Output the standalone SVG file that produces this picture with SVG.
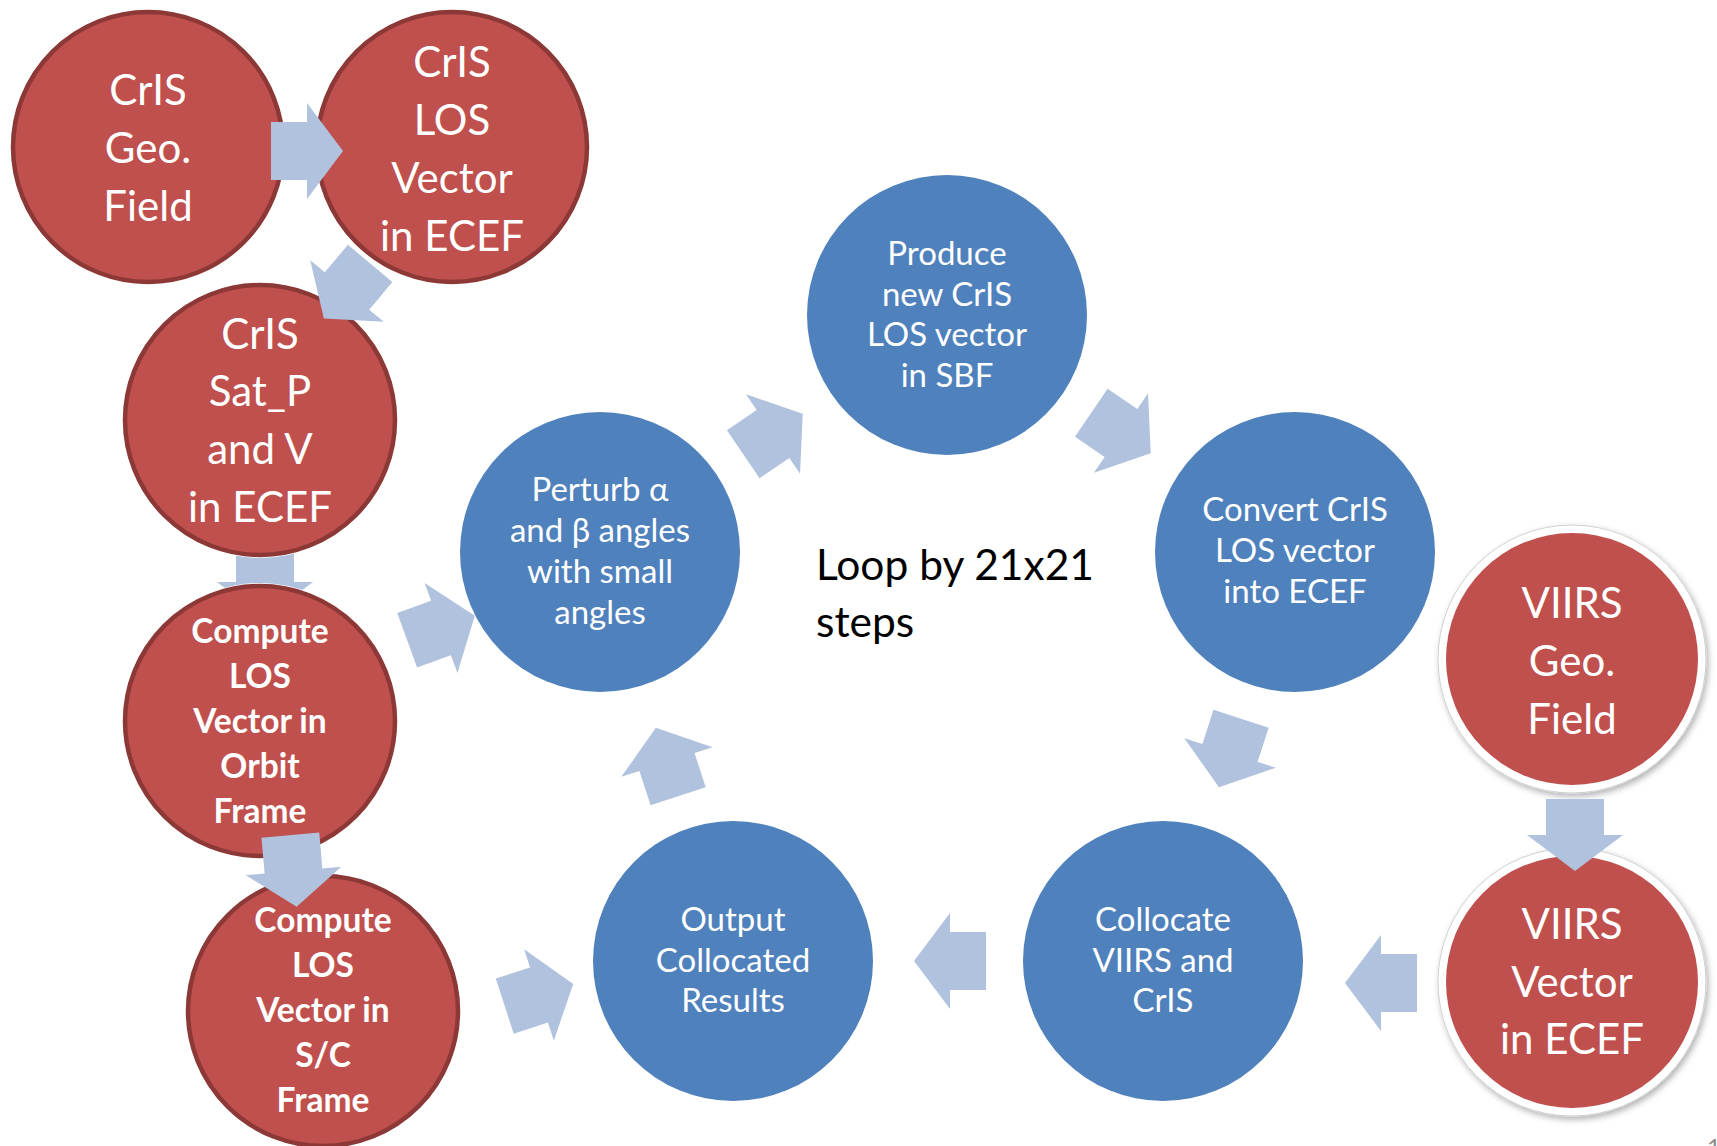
<svg xmlns="http://www.w3.org/2000/svg" width="1717" height="1146" viewBox="0 0 1717 1146">
  <style>
    .red { fill: #C0504D; stroke: #8C3836; stroke-width: 4.5; }
    .blue { fill: #4F81BD; }
    .ring { fill: #FFFFFF; stroke: #D0D0D0; stroke-width: 1; }
    .viirs { fill: #C0504D; }
    .arw { fill: #B0C2DD; }
    text { font-family: Lato, "Liberation Sans", sans-serif; fill: #FFFFFF; text-anchor: middle; }
    .big { font-size: 42px; }
    .bold { font-size: 33.5px; font-weight: bold; }
    .small { font-size: 33px; }
    .note { font-size: 42.5px; fill: #000000; text-anchor: start; }
    .page { font-size: 24px; fill: #8C8C8C; text-anchor: start; }
  </style>
  <defs>
    <!-- block arrow pointing right, centred on the origin -->
    <path id="arrow" d="M-36,-29 H0 V-48 L36,0 L0,48 V29 H-36 Z"/>
    <filter id="soft" x="-10%" y="-10%" width="125%" height="125%">
      <feDropShadow dx="2" dy="3" stdDeviation="3" flood-color="#000" flood-opacity="0.3"/>
    </filter>
    <!-- hide arrow parts that pass behind circles -->
    <mask id="behindSat" maskUnits="userSpaceOnUse" x="0" y="0" width="1717" height="1146">
      <rect width="1717" height="1146" fill="#fff"/>
      <circle cx="260" cy="420" r="138" fill="#000"/>
      <circle cx="260" cy="721" r="138" fill="#000"/>
    </mask>
    <mask id="behindViirs" maskUnits="userSpaceOnUse" x="0" y="0" width="1717" height="1146">
      <rect width="1717" height="1146" fill="#fff"/>
      <circle cx="1572" cy="659" r="135" fill="#000"/>
    </mask>
  </defs>

  <rect width="1717" height="1146" fill="#FFFFFF"/>

  <g id="crisGeo">
    <circle class="red" cx="148" cy="147" r="135"/>
    <text class="big" x="148" y="105">CrIS</text>
    <text class="big" x="148" y="163">Geo.</text>
    <text class="big" x="148" y="221">Field</text>
  </g>
  <g id="crisLosEcef">
    <circle class="red" cx="452" cy="147" r="135"/>
    <text class="big" x="452" y="77">CrIS</text>
    <text class="big" x="452" y="135">LOS</text>
    <text class="big" x="452" y="193">Vector</text>
    <text class="big" x="452" y="251">in ECEF</text>
  </g>
  <g id="crisSatPV">
    <circle class="red" cx="260" cy="420" r="135"/>
    <text class="big" x="260" y="349">CrIS</text>
    <text class="big" x="260" y="406">Sat_P</text>
    <text class="big" x="260" y="464">and V</text>
    <text class="big" x="260" y="522">in ECEF</text>
  </g>
  <g id="losOrbit">
    <circle class="red" cx="260" cy="721" r="135"/>
    <text class="bold" x="260" y="643">Compute</text>
    <text class="bold" x="260" y="688">LOS</text>
    <text class="bold" x="260" y="733">Vector in</text>
    <text class="bold" x="260" y="778">Orbit</text>
    <text class="bold" x="260" y="823">Frame</text>
  </g>
  <g id="losSC">
    <circle class="red" cx="323" cy="1011" r="135"/>
    <text class="bold" x="323" y="932">Compute</text>
    <text class="bold" x="323" y="977">LOS</text>
    <text class="bold" x="323" y="1022">Vector in</text>
    <text class="bold" x="323" y="1067">S/C</text>
    <text class="bold" x="323" y="1112">Frame</text>
  </g>

  <g id="perturb">
    <circle class="blue" cx="600" cy="552" r="140"/>
    <text class="small" x="600" y="501">Perturb α</text>
    <text class="small" x="600" y="542">and β angles</text>
    <text class="small" x="600" y="583">with small</text>
    <text class="small" x="600" y="624">angles</text>
  </g>
  <g id="produce">
    <circle class="blue" cx="947" cy="315" r="140"/>
    <text class="small" x="947" y="265">Produce</text>
    <text class="small" x="947" y="306">new CrIS</text>
    <text class="small" x="947" y="346">LOS vector</text>
    <text class="small" x="947" y="387">in SBF</text>
  </g>
  <g id="convert">
    <circle class="blue" cx="1295" cy="552" r="140"/>
    <text class="small" x="1295" y="521">Convert CrIS</text>
    <text class="small" x="1295" y="562">LOS vector</text>
    <text class="small" x="1295" y="603">into ECEF</text>
  </g>
  <g id="collocate">
    <circle class="blue" cx="1163" cy="961" r="140"/>
    <text class="small" x="1163" y="931">Collocate</text>
    <text class="small" x="1163" y="972">VIIRS and</text>
    <text class="small" x="1163" y="1012">CrIS</text>
  </g>
  <g id="output">
    <circle class="blue" cx="733" cy="961" r="140"/>
    <text class="small" x="733" y="931">Output</text>
    <text class="small" x="733" y="972">Collocated</text>
    <text class="small" x="733" y="1012">Results</text>
  </g>

  <g id="viirsGeo">
    <circle class="ring" cx="1572" cy="659" r="134" filter="url(#soft)"/>
    <circle class="viirs" cx="1572" cy="659" r="126"/>
    <text class="big" x="1572" y="618">VIIRS</text>
    <text class="big" x="1572" y="676">Geo.</text>
    <text class="big" x="1572" y="734">Field</text>
  </g>
  <g id="viirsVector">
    <circle class="ring" cx="1572" cy="982" r="134" filter="url(#soft)"/>
    <circle class="viirs" cx="1572" cy="982" r="126"/>
    <text class="big" x="1572" y="939">VIIRS</text>
    <text class="big" x="1572" y="997">Vector</text>
    <text class="big" x="1572" y="1054">in ECEF</text>
  </g>

  <g id="connectors" class="arw">
    <use href="#arrow" transform="translate(307,151)"/>
    <use href="#arrow" transform="translate(347,291) rotate(130)"/>
    <g mask="url(#behindSat)">
      <use href="#arrow" transform="translate(265,582) rotate(90)"/>
    </g>
    <use href="#arrow" transform="translate(293.5,871) rotate(85)"/>
    <use href="#arrow" transform="translate(441,628) rotate(-20)"/>
    <use href="#arrow" transform="translate(539,995) rotate(-18)"/>
    <use href="#arrow" transform="translate(773,434) rotate(-34.3)"/>
    <use href="#arrow" transform="translate(1121,433) rotate(34.3)"/>
    <use href="#arrow" transform="translate(1230,753) rotate(107.9)"/>
    <use href="#arrow" transform="translate(950,961) rotate(180)"/>
    <use href="#arrow" transform="translate(667,762) rotate(-108)"/>
    <use href="#arrow" transform="translate(1381,983) rotate(180)"/>
    <g mask="url(#behindViirs)">
      <use href="#arrow" transform="translate(1575,835) rotate(90)"/>
    </g>
  </g>

  <text class="note" x="816" y="580">Loop by 21x21</text>
  <text class="note" x="816" y="637">steps</text>
  <text class="page" x="1707" y="1156">1</text>
</svg>
